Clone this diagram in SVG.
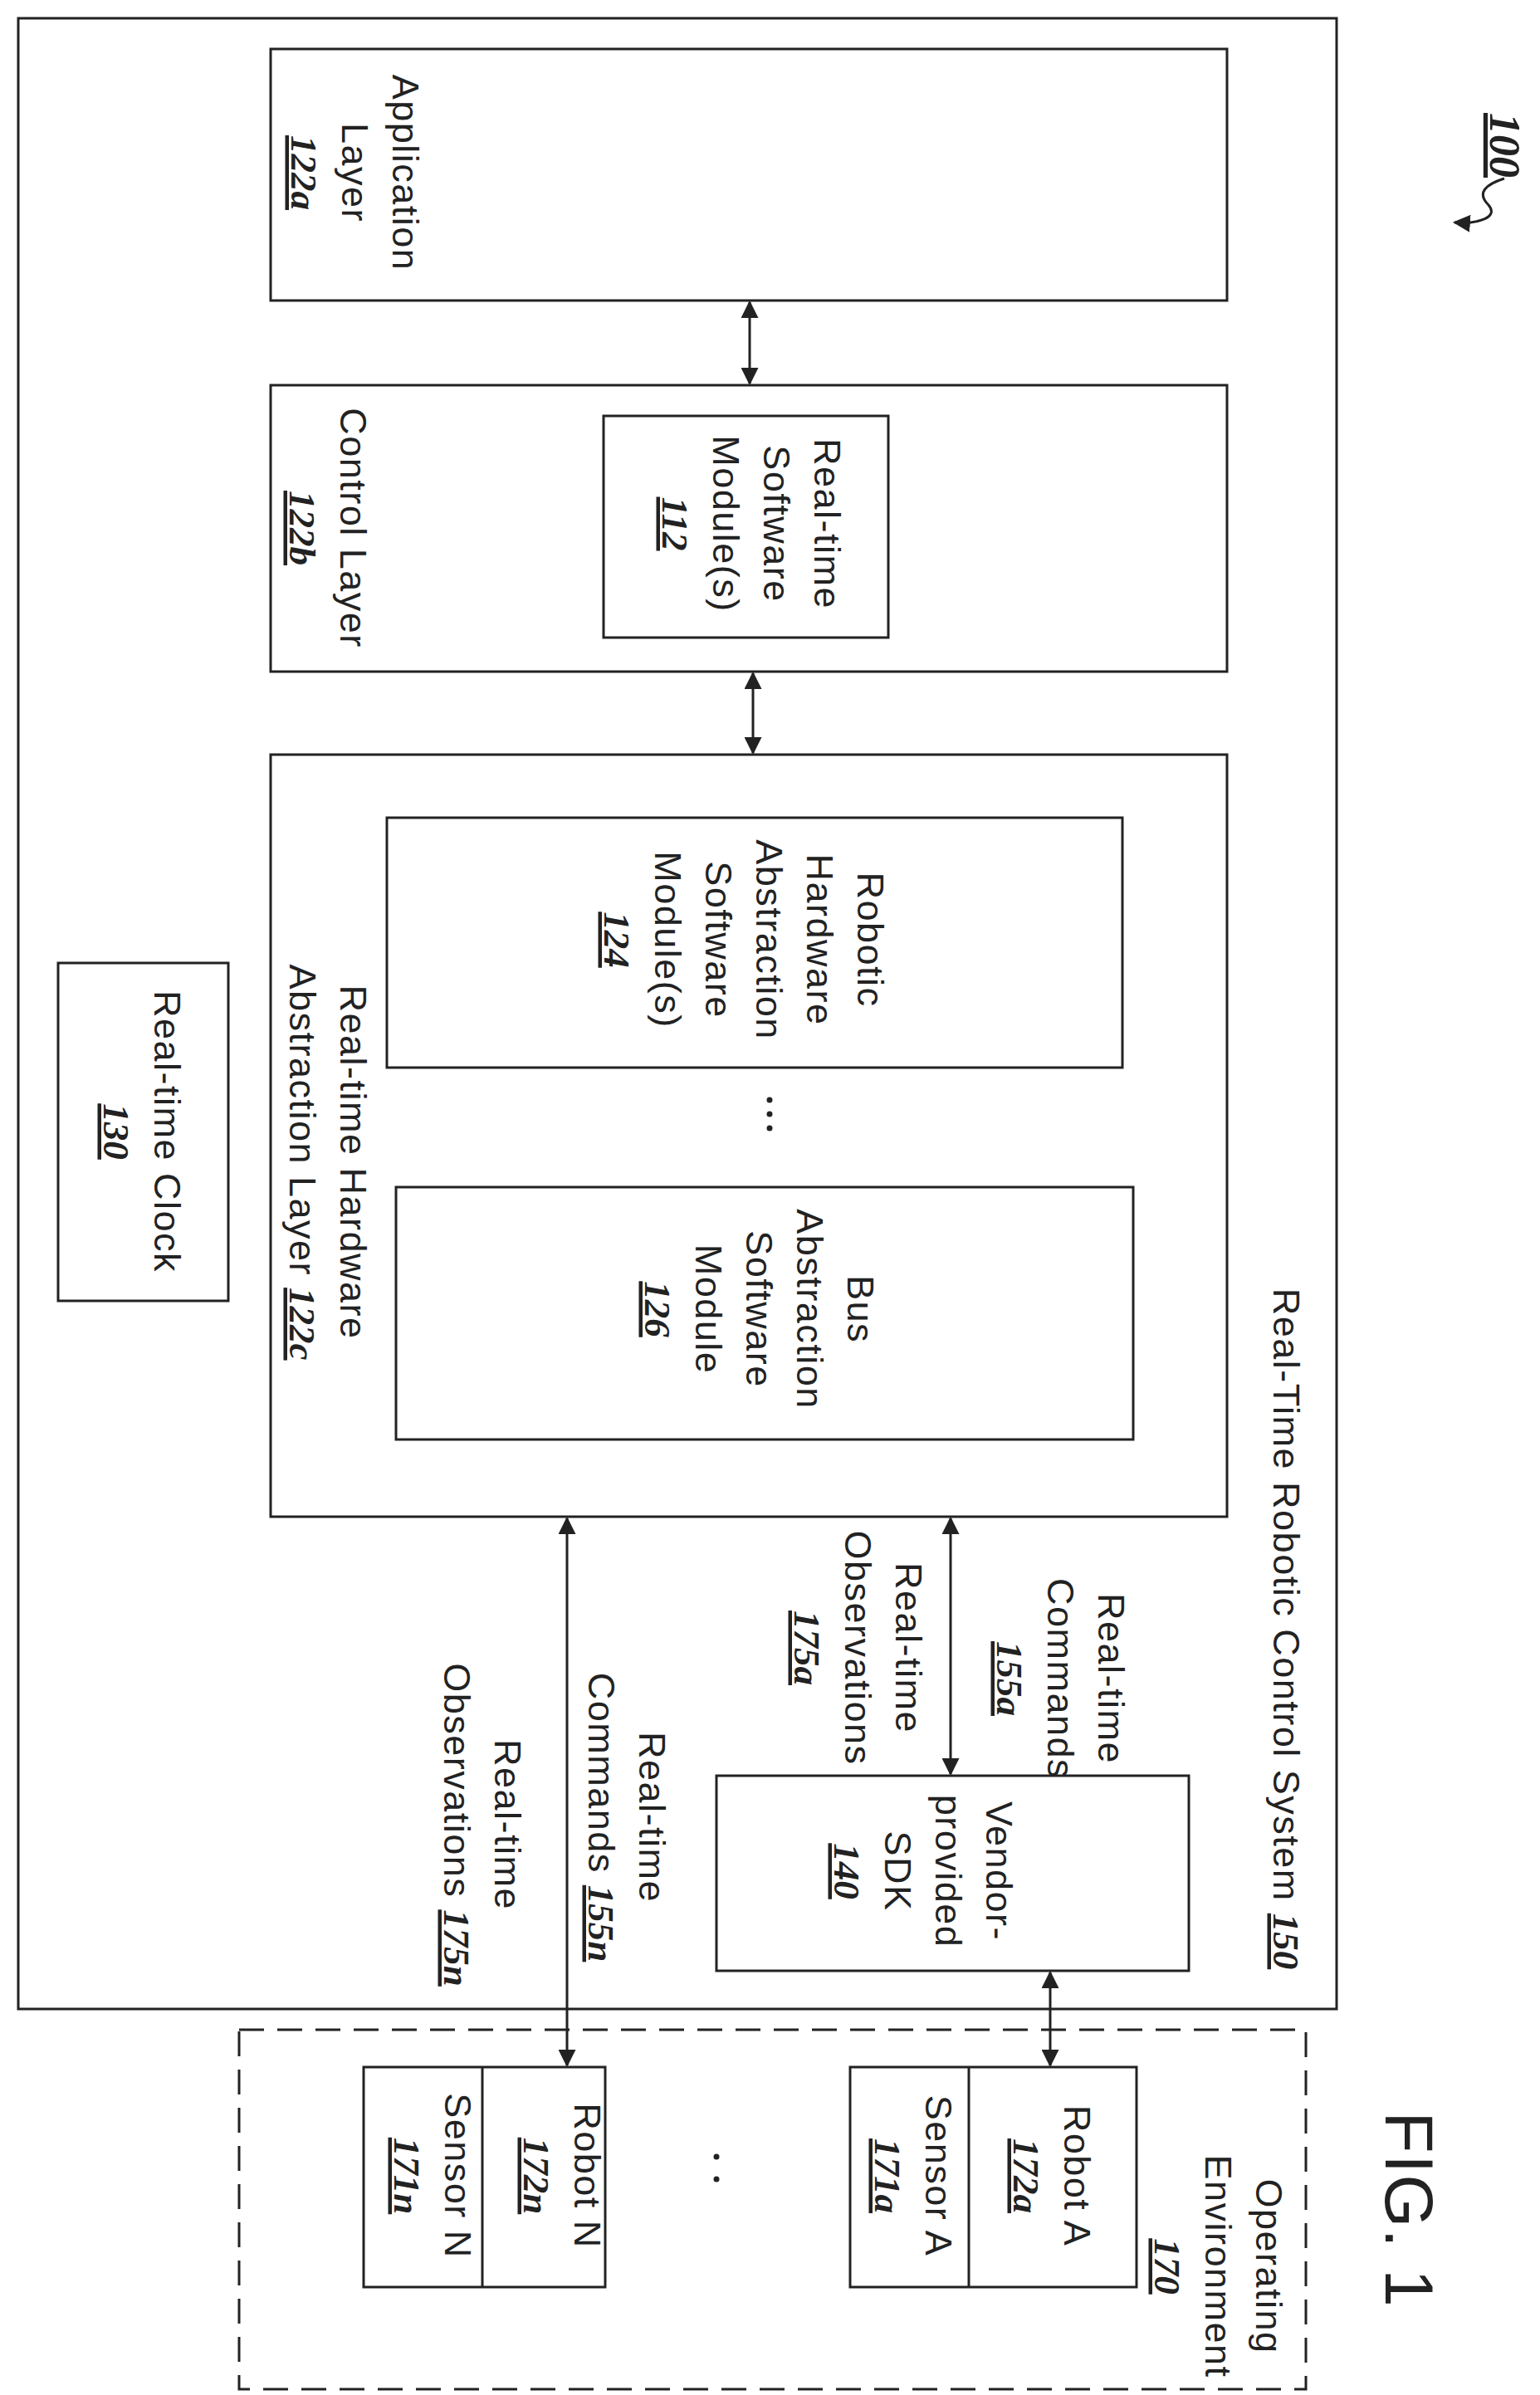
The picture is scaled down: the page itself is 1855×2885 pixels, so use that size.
<svg xmlns="http://www.w3.org/2000/svg" width="1855" height="2885" viewBox="0 0 1855 2885">
<style>
.b{fill:none;stroke:#222;stroke-width:3}
.d{fill:none;stroke:#222;stroke-width:3;stroke-dasharray:30 16}
.c{stroke:#222;stroke-width:3;fill:none}
text{font-family:"Liberation Sans",Arial,sans-serif;font-size:45px;letter-spacing:1.5px;fill:#222;text-anchor:middle}
.n{font-family:"Liberation Serif",serif;font-weight:bold;font-style:italic;text-decoration:underline;letter-spacing:0}
</style>
<defs>
<marker id="a" viewBox="0 0 10 10" refX="9" refY="5" markerWidth="7" markerHeight="7" orient="auto-start-reverse"><path d="M0,0 L10,5 L0,10 z" fill="#222"/></marker>
</defs>
<rect width="1855" height="2885" fill="#fff"/>
<g id="system"><rect class="b" x="22" y="22" width="1588" height="2398"/>
<g transform="translate(1549,1962) rotate(90)"><text y="15">Real-Time Robotic Control System <tspan class="n">150</tspan></text></g></g>
<g id="app"><rect class="b" x="326" y="59" width="1152" height="303"/>
<g transform="translate(427,208) rotate(90)"><text y="-46">Application</text><text y="15">Layer</text><text class="n" y="76">122a</text></g></g>
<g id="control"><rect class="b" x="326" y="464" width="1152" height="345"/>
<g transform="translate(395,636) rotate(90)"><text y="-15">Control Layer</text><text class="n" y="46">122b</text></g></g>
<g id="rtsm"><rect class="b" x="727" y="501" width="343" height="267"/>
<g transform="translate(904,631) rotate(90)"><text y="-77">Real-time</text><text y="-16">Software</text><text y="45">Module(s)</text><text class="n" y="106">112</text></g></g>
<g id="hal"><rect class="b" x="326" y="909" width="1152" height="918"/>
<g transform="translate(395,1400) rotate(90)"><text y="-15">Real-time Hardware</text><text y="46">Abstraction Layer <tspan class="n">122c</tspan></text></g></g>
<g id="rhw"><rect class="b" x="466" y="985" width="886" height="301"/>
<g transform="translate(895,1132) rotate(90)"><text y="-138">Robotic</text><text y="-77">Hardware</text><text y="-16">Abstraction</text><text y="45">Software</text><text y="106">Module(s)</text><text class="n" y="167">124</text></g></g>
<g id="dots1"><circle cx="927" cy="1325" r="3.5" fill="#222"/><circle cx="927" cy="1342" r="3.5" fill="#222"/><circle cx="927" cy="1359" r="3.5" fill="#222"/></g>
<g id="bus"><rect class="b" x="477" y="1430" width="888" height="304"/>
<g transform="translate(914,1577) rotate(90)"><text y="-107">Bus</text><text y="-46">Abstraction</text><text y="15">Software</text><text y="76">Module</text><text class="n" y="137">126</text></g></g>
<g id="clock"><rect class="b" x="70" y="1160" width="205" height="407"/>
<g transform="translate(171,1363) rotate(90)"><text y="-15">Real-time Clock</text><text class="n" y="46">130</text></g></g>
<g id="sdk"><rect class="b" x="863" y="2139" width="569" height="235"/>
<g transform="translate(1111,2254) rotate(90)"><text y="-77">Vendor-</text><text y="-16">provided</text><text y="45">SDK</text><text class="n" y="106">140</text></g></g>
<g id="env"><rect class="d" x="288" y="2445" width="1285" height="433"/>
<g transform="translate(1467,2730) rotate(90)"><text y="-46">Operating</text><text y="15">Environment</text><text class="n" y="76">170</text></g></g>
<g id="robotA"><rect class="b" x="1024" y="2490" width="345" height="265"/><line class="c" x1="1167" y1="2490" x2="1167" y2="2755"/>
<g transform="translate(1267,2621) rotate(90)"><text y="-15">Robot A</text><text class="n" y="46">172a</text></g>
<g transform="translate(1100,2621) rotate(90)"><text y="-15">Sensor A</text><text class="n" y="46">171a</text></g></g>
<g id="robotN"><rect class="b" x="438" y="2490" width="291" height="265"/><line class="c" x1="581" y1="2490" x2="581" y2="2755"/>
<g transform="translate(677,2621) rotate(90)"><text y="-15">Robot N</text><text class="n" y="46">172n</text></g>
<g transform="translate(521,2621) rotate(90)"><text y="-15">Sensor N</text><text class="n" y="46">171n</text></g></g>
<g id="dots2"><circle cx="863" cy="2598" r="3.5" fill="#222"/><circle cx="863" cy="2625" r="3.5" fill="#222"/></g>
<g id="connectors">
<line class="c" x1="903" y1="364" x2="903" y2="462" marker-start="url(#a)" marker-end="url(#a)"/>
<line class="c" x1="907" y1="811" x2="907" y2="907" marker-start="url(#a)" marker-end="url(#a)"/>
<line class="c" x1="1145" y1="1829" x2="1145" y2="2137" marker-start="url(#a)" marker-end="url(#a)"/>
<line class="c" x1="683" y1="1829" x2="683" y2="2488" marker-start="url(#a)" marker-end="url(#a)"/>
<line class="c" x1="1265" y1="2376" x2="1265" y2="2488" marker-start="url(#a)" marker-end="url(#a)"/>
</g>
<g id="labels">
<g transform="translate(1277,2022) rotate(90)"><text y="-46">Real-time</text><text y="15">Commands</text><text class="n" y="76">155a</text></g>
<g transform="translate(1033,1985) rotate(90)"><text y="-46">Real-time</text><text y="15">Observations</text><text class="n" y="76">175a</text></g>
<g transform="translate(755,2189) rotate(90)"><text y="-15">Real-time</text><text y="46">Commands <tspan class="n">155n</tspan></text></g>
<g transform="translate(581,2198) rotate(90)"><text y="-15">Real-time</text><text y="46">Observations <tspan class="n">175n</tspan></text></g>
<g transform="translate(1697,2662) rotate(90)"><text y="28" style="font-size:82px">FIG. 1</text></g>
<g transform="translate(1810,175) rotate(90)"><text class="n" y="15" style="font-size:52px">100</text></g>
<path class="c" d="M1812,215 C1790,222 1778,232 1793,247 C1806,262 1780,270 1752,268" stroke-width="2.5" marker-end="url(#a)"/>
</g>
</svg>
